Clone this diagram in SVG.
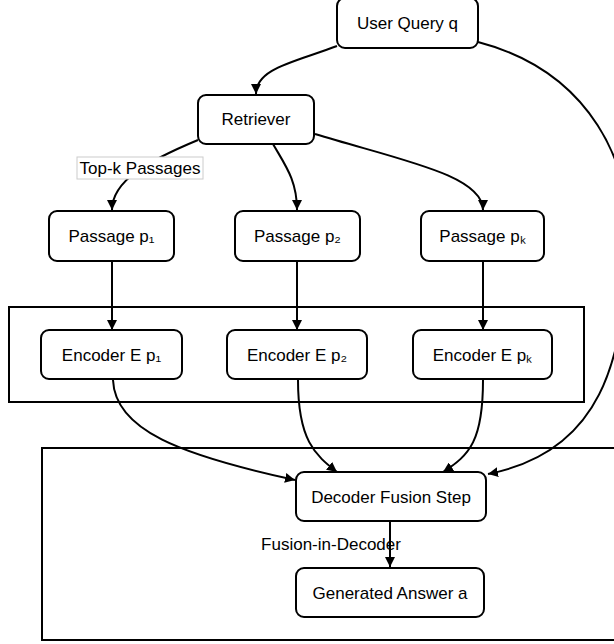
<svg xmlns="http://www.w3.org/2000/svg" width="614" height="644" viewBox="0 0 614 644">
  <style>
    .node rect { fill: #ffffff; stroke: #000000; stroke-width: 2; }
    .node text { font-family: "Liberation Sans", Arial, sans-serif; font-size: 17px; fill: #000000; text-anchor: middle; }
    .cluster rect { fill: none; stroke: #000000; stroke-width: 2; }
    .edges path { fill: none; stroke: #000000; stroke-width: 2; marker-end: url(#arrow); }
    .elabel text { font-family: "Liberation Sans", Arial, sans-serif; font-size: 17px; fill: #000000; }
  </style>
  <defs>
    <marker id="arrow" viewBox="0 0 10 10" refX="10" refY="5" markerWidth="10" markerHeight="10" markerUnits="userSpaceOnUse" orient="auto">
      <path d="M0,0 L10,5 L0,10 z" fill="#000000"/>
    </marker>
  </defs>
  <rect width="614" height="644" fill="#ffffff"/>

  <!-- clusters -->
  <g id="encoders" class="cluster">
    <rect x="9" y="307" width="575" height="95"/>
  </g>
  <g id="decoder" class="cluster">
    <rect x="42" y="448" width="590" height="192"/>
  </g>

  <!-- connectors -->
  <g id="edges" class="edges">
    <path d="M337,46 C295,62 256,68 256,94"/>
    <path d="M478,42 C585,70 640,160 628,270 C619,347 610,450 488,474"/>
    <path d="M198,140 C150,160 112,180 112,210"/>
    <path d="M273,144 C285,165 297,180 297,210"/>
    <path d="M315,134 C400,160 483,175 483,210"/>
    <path d="M112,261 L112,330"/>
    <path d="M297,261 L297,330"/>
    <path d="M483,261 L483,330"/>
    <path d="M113,380 C115,430 180,455 295,480"/>
    <path d="M298,380 C298,440 315,455 337,472"/>
    <path d="M483,380 C483,440 470,455 443,472"/>
    <path d="M390,521 L390,567"/>
  </g>

  <!-- edge labels -->
  <g id="label-topk" class="elabel">
    <rect x="77" y="157" width="126" height="22" fill="#ffffff" stroke="#cccccc" stroke-width="1"/>
    <text x="140" y="174" text-anchor="middle">Top-k Passages</text>
  </g>
  <g id="label-fid" class="elabel">
    <text x="331" y="550" text-anchor="middle">Fusion-in-Decoder</text>
  </g>

  <!-- nodes -->
  <g id="query" class="node">
    <rect x="337" y="-2" width="141" height="50" rx="8"/>
    <text x="407.5" y="29">User Query q</text>
  </g>
  <g id="retriever" class="node">
    <rect x="198" y="95" width="116" height="49" rx="8"/>
    <text x="256" y="125">Retriever</text>
  </g>
  <g id="passage1" class="node">
    <rect x="49" y="211" width="125" height="50" rx="8"/>
    <text x="111.5" y="242">Passage p₁</text>
  </g>
  <g id="passage2" class="node">
    <rect x="235" y="211" width="125" height="50" rx="8"/>
    <text x="297.5" y="242">Passage p₂</text>
  </g>
  <g id="passagek" class="node">
    <rect x="421" y="211" width="123" height="50" rx="8"/>
    <text x="482.5" y="242">Passage pₖ</text>
  </g>
  <g id="encoder1" class="node">
    <rect x="41" y="330" width="141" height="49" rx="8"/>
    <text x="111.5" y="361">Encoder E p₁</text>
  </g>
  <g id="encoder2" class="node">
    <rect x="227" y="330" width="140" height="49" rx="8"/>
    <text x="297" y="361">Encoder E p₂</text>
  </g>
  <g id="encoderk" class="node">
    <rect x="413" y="330" width="139" height="49" rx="8"/>
    <text x="482.5" y="361">Encoder E pₖ</text>
  </g>
  <g id="fusion" class="node">
    <rect x="296" y="472" width="190" height="49" rx="8"/>
    <text x="391" y="503">Decoder Fusion Step</text>
  </g>
  <g id="answer" class="node">
    <rect x="296" y="568" width="188" height="49" rx="8"/>
    <text x="390" y="599">Generated Answer a</text>
  </g>
</svg>
